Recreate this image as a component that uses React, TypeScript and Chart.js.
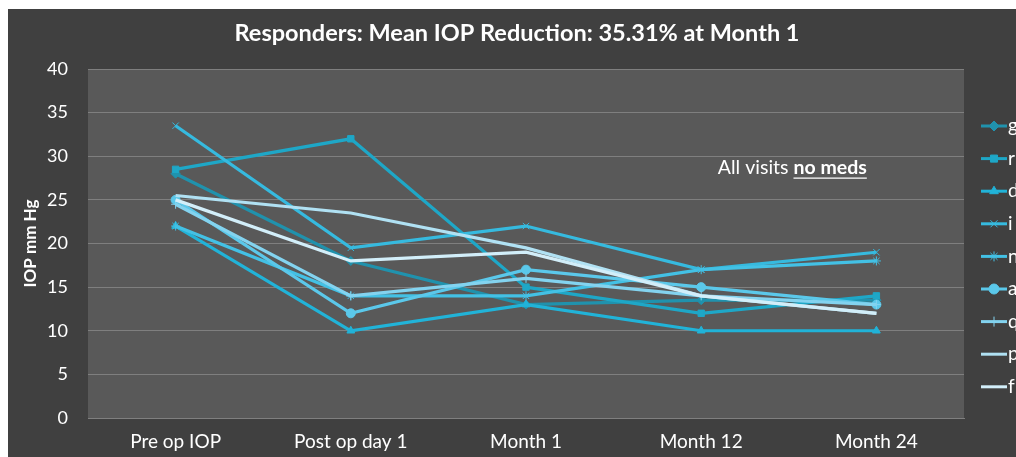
import React, { useEffect, useRef } from 'react';
import { Chart, registerables } from 'chart.js';
import { drawPoint } from 'chart.js/helpers';

Chart.register(...registerables);

const categories = ['Pre op IOP', 'Post op day 1', 'Month 1', 'Month 12', 'Month 24'];
const seriesNames = ['g', 'r', 'd', 'i', 'n', 'a', 'q', 'p', 'f'];
const gValues = [28, 18, 13, 13.5, 13.5];
const rValues = [28.5, 32, 15, 12, 14];
const dValues = [22, 10, 13, 10, 10];
const iValues = [33.5, 19.5, 22, 17, 19];
const nValues = [22, 14, 14, 17, 18];
const aValues = [25, 12, 17, 15, 13];
const qValues = [24.5, 14, 16, 14, 13];
const pValues = [25.5, 23.5, 19.5, 14, 12];
const fValues = [25, 18, 19, 14, 12];
const seriesValues = [gValues, rValues, dValues, iValues, nValues, aValues, qValues, pValues, fValues];
const seriesColors = ['#2092ad', '#1ea7c7', '#21b3d8', '#36badf', '#43c1e5', '#5bc8ea', '#83d3ef', '#b0e1f3', '#d2eef9'];
const seriesMarkers: (string | false)[] = ['rectRot', 'rect', 'triangle', 'crossRot', 'star', 'circle', 'cross', false, false];
const yMin = 0;
const yMax = 40;
const yStep = 5;
const titleText = 'Responders: Mean IOP Reduction: 35.31% at Month 1';
const yAxisTitle = 'IOP mm Hg';
const noteNormal = 'All visits ';
const noteBold = 'no meds';

const FONT = 'Lato, "Open Sans", sans-serif';

const bgPlugin = {
  id: 'bgPlugin',
  beforeDraw(chart: any) {
    const { ctx, chartArea, width, height } = chart;
    ctx.save();
    ctx.fillStyle = '#404040';
    ctx.fillRect(0, 0, width, height);
    ctx.fillStyle = '#595959';
    ctx.fillRect(chartArea.left, chartArea.top, chartArea.right - chartArea.left, chartArea.bottom - chartArea.top);
    ctx.fillStyle = '#ffffff';
    ctx.font = 'bold 23.5px ' + FONT;
    ctx.textAlign = 'center';
    ctx.textBaseline = 'middle';
    ctx.fillText(titleText, 509, 24);
    ctx.restore();
  },
};

const legendPlugin = {
  id: 'customLegend',
  afterDraw(chart: any) {
    const { ctx } = chart;
    ctx.save();
    chart.data.datasets.forEach((ds: any, i: number) => {
      const y = 117 + i * 32.6;
      ctx.strokeStyle = ds.borderColor;
      ctx.lineWidth = 3;
      ctx.beginPath();
      ctx.moveTo(973, y);
      ctx.lineTo(999, y);
      ctx.stroke();
      if (ds.pointStyle) {
        ctx.fillStyle = ds.borderColor;
        ctx.strokeStyle = ds.borderColor;
        ctx.lineWidth = 1;
        drawPoint(ctx, { pointStyle: ds.pointStyle, radius: 5, rotation: 0, borderWidth: 1 } as any, 986, y);
      }
      ctx.fillStyle = '#ffffff';
      ctx.font = '19px ' + FONT;
      ctx.textAlign = 'left';
      ctx.textBaseline = 'middle';
      ctx.fillText(ds.label, 1000, y);
    });
    ctx.restore();
  },
};

const notePlugin = {
  id: 'notePlugin',
  afterDatasetsDraw(chart: any) {
    const { ctx, chartArea } = chart;
    const x = chartArea.left + (chartArea.right - chartArea.left) * 0.719;
    const y = chart.scales.y.getPixelForValue(28.7);
    ctx.save();
    ctx.fillStyle = '#ffffff';
    ctx.textBaseline = 'middle';
    ctx.textAlign = 'left';
    ctx.font = '19.5px ' + FONT;
    ctx.fillText(noteNormal, x, y);
    const w1 = ctx.measureText(noteNormal).width;
    ctx.font = 'bold 19.5px ' + FONT;
    ctx.fillText(noteBold, x + w1, y);
    const w2 = ctx.measureText(noteBold).width;
    ctx.strokeStyle = '#ffffff';
    ctx.lineWidth = 1.3;
    ctx.beginPath();
    ctx.moveTo(x + w1, y + 10.5);
    ctx.lineTo(x + w1 + w2, y + 10.5);
    ctx.stroke();
    ctx.restore();
  },
};

export default function App() {
  const canvasRef = useRef<HTMLCanvasElement>(null);

  useEffect(() => {
    document.body.style.margin = '0';
    document.body.style.overflow = 'hidden';
    const canvas = canvasRef.current;
    if (!canvas) return;
    const datasets = seriesNames.map((name, i) => ({
      label: name,
      data: seriesValues[i],
      borderColor: seriesColors[i],
      backgroundColor: seriesColors[i],
      borderWidth: 3.2,
      pointStyle: seriesMarkers[i] as any,
      pointRadius: seriesMarkers[i] ? 4.5 : 0,
      pointBorderWidth: 1,
      pointBackgroundColor: seriesColors[i],
      pointBorderColor: seriesColors[i],
      tension: 0,
      fill: false,
      order: seriesNames.length - i,
    }));
    const chart = new Chart(canvas, {
      type: 'line',
      data: { labels: categories, datasets },
      plugins: [bgPlugin, notePlugin, legendPlugin],
      options: {
        animation: false,
        responsive: false,
        maintainAspectRatio: false,
        layout: { padding: { left: 0, right: 52, top: 60, bottom: 0 } },
        plugins: {
          legend: { display: false },
          tooltip: { enabled: false },
          title: { display: false },
        },
        scales: {
          x: {
            type: 'category',
            offset: true,
            grid: { display: false, drawTicks: false },
            border: { display: true, color: '#7f7f7f', width: 1 },
            ticks: { color: '#ffffff', font: { family: FONT, size: 19 }, padding: 12, maxRotation: 0 },
            afterFit(scale: any) {
              scale.height = 39;
            },
          },
          y: {
            min: yMin,
            max: yMax,
            ticks: { stepSize: yStep, color: '#ffffff', font: { family: FONT, size: 18 }, padding: 20 },
            grid: { color: '#7f7f7f', lineWidth: 1, drawTicks: false },
            border: { display: false },
            title: {
              display: true,
              text: yAxisTitle,
              color: '#ffffff',
              font: { family: FONT, size: 17, weight: 'bold', lineHeight: 1.2 },
              padding: { top: 12, bottom: 0 },
            },
            afterFit(scale: any) {
              scale.width = 80;
            },
          },
        },
      },
    });
    return () => chart.destroy();
  }, []);

  return (
    <div style={{ paddingLeft: 8, paddingTop: 9, width: 1008, height: 448, background: '#ffffff' }}>
      <canvas ref={canvasRef} width={1008} height={448} style={{ display: 'block', width: 1008, height: 448 }} />
    </div>
  );
}
